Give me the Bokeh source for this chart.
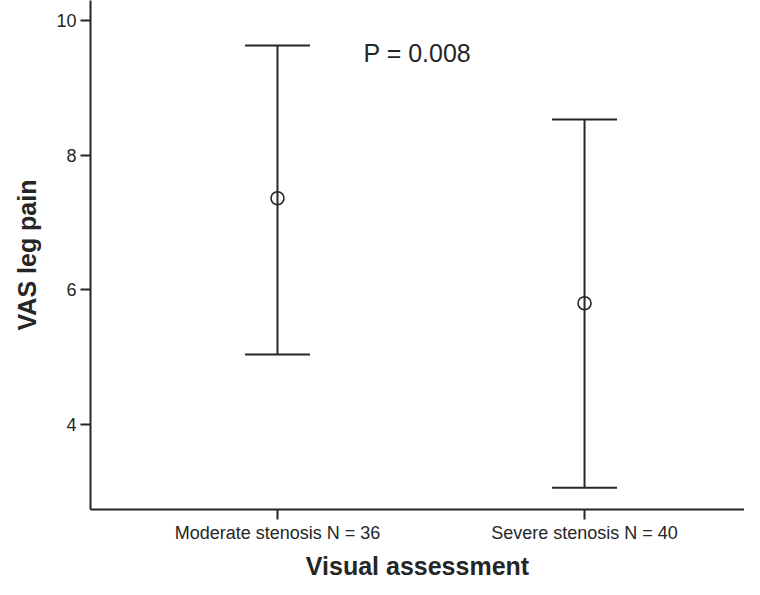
from bokeh.plotting import figure
from bokeh.models import (ColumnDataSource, Whisker, TeeHead, Range1d, FixedTicker, Label)
from bokeh.embed import file_html
from bokeh.resources import INLINE

# ---- data ----
groups = ["Moderate stenosis N = 36", "Severe stenosis N = 40"]
means = [7.36, 5.80]
upper = [9.63, 8.53]
lower = [5.04, 3.06]
y_ticks = [4, 6, 8, 10]
p_text = "P = 0.008"

positions = [i + 1 for i in range(len(groups))]

INK = "#262626"
FONT = "Liberation Sans"

src = ColumnDataSource(dict(x=positions, mean=means, upper=upper, lower=lower))

p = figure(frame_width=654, frame_height=509,
           x_range=Range1d(0.391, 2.521), y_range=Range1d(2.737, 10.297),
           output_backend="svg", toolbar_location=None,
           min_border_left=90, min_border_right=0, min_border_top=0, min_border_bottom=0)

p.outline_line_color = None
p.xgrid.visible = False
p.ygrid.visible = False
p.background_fill_color = "white"
p.border_fill_color = "white"

w = Whisker(base="x", upper="upper", lower="lower", source=src, dimension="height",
            line_color=INK, line_width=2,
            upper_head=TeeHead(size=65, line_color=INK, line_width=2),
            lower_head=TeeHead(size=65, line_color=INK, line_width=2))
p.add_layout(w)

p.scatter("x", "mean", source=src, marker="circle", size=13,
          fill_alpha=0, line_color=INK, line_width=1.6)

p.add_layout(Label(x=1.28, y=9.51, text=p_text, text_font=FONT, text_font_size="25px",
                   text_color=INK, text_align="left", text_baseline="alphabetic"))

# x axis
xa = p.xaxis[0]
xa.ticker = FixedTicker(ticks=positions)
xa.major_label_overrides = {pos: g for pos, g in zip(positions, groups)}
xa.axis_label = "Visual assessment"
xa.axis_label_text_font = FONT
xa.axis_label_text_font_style = "bold"
xa.axis_label_text_font_size = "25px"
xa.axis_label_text_color = INK
xa.axis_label_standoff = 6
xa.major_label_text_font = FONT
xa.major_label_text_font_size = "18px"
xa.major_label_text_color = INK
xa.major_label_standoff = 3
xa.major_tick_out = 10
xa.major_tick_in = 0
xa.minor_tick_out = 0
xa.minor_tick_in = 0
xa.axis_line_width = 2
xa.axis_line_color = INK
xa.major_tick_line_width = 2
xa.major_tick_line_color = INK

# y axis
ya = p.yaxis[0]
ya.ticker = FixedTicker(ticks=y_ticks)
ya.axis_label = "VAS leg pain"
ya.axis_label_text_font = FONT
ya.axis_label_text_font_style = "bold"
ya.axis_label_text_font_size = "25px"
ya.axis_label_text_color = INK
ya.axis_label_standoff = 12
ya.major_label_text_font = FONT
ya.major_label_text_font_size = "18px"
ya.major_label_text_color = INK
ya.major_label_standoff = 4
ya.major_tick_out = 10
ya.major_tick_in = 0
ya.minor_tick_out = 0
ya.minor_tick_in = 0
ya.axis_line_width = 2
ya.axis_line_color = INK
ya.major_tick_line_width = 2
ya.major_tick_line_color = INK

open("out.html", "w").write(file_html(p, INLINE))
